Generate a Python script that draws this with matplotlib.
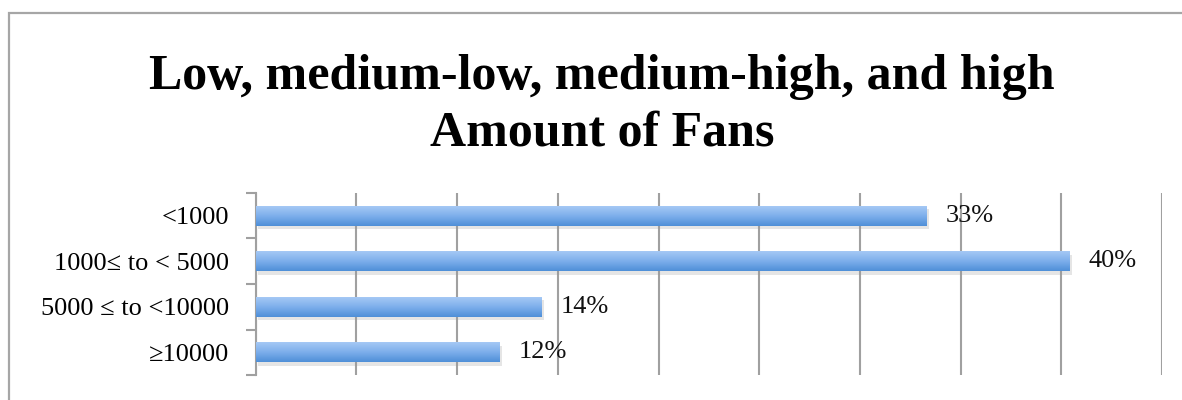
import matplotlib
matplotlib.use("Agg")
import matplotlib.pyplot as plt
import matplotlib.patheffects as pe
from matplotlib.colors import LinearSegmentedColormap
from matplotlib.patches import Rectangle
import numpy as np

categories = ["<1000", "1000\u2264 to < 5000", "5000 \u2264 to <10000", "\u226510000"]
shares = [0.333, 0.404, 0.142, 0.121]
value_labels = ["33%", "40%", "14%", "12%"]

plt.rcParams["font.family"] = ["Liberation Serif", "DejaVu Serif"]

fig = plt.figure(figsize=(11.82, 4.0), dpi=100)
# outer chart border (top and left only visible in the crop)
fig.patches.append(Rectangle((9 / 1182, -0.1), 1.2, 1 - 13 / 400 + 0.1, transform=fig.transFigure,
                             fill=False, edgecolor="#a6a6a6", linewidth=1.6))

ax = fig.add_axes([255.7 / 1182, 25 / 400, (1162 - 255.7) / 1182, (375 - 193) / 400])

grad_cmap = LinearSegmentedColormap.from_list("bar", ["#a9cbf6", "#7fb0ec", "#4f8fd8"])
gradient = np.linspace(0, 1, 64).reshape(-1, 1)

y = np.arange(len(categories))
bars = ax.barh(y, shares, height=0.44, color="#7aaee9", zorder=3,
               path_effects=[pe.SimplePatchShadow(offset=(2, -2.5), shadow_rgbFace="#999999", alpha=0.25),
                             pe.Normal()])
for bar, val, lab in zip(bars, shares, value_labels):
    x0, y0 = bar.get_x(), bar.get_y()
    w, h = bar.get_width(), bar.get_height()
    im = ax.imshow(gradient, extent=[x0, x0 + w, y0 + h, y0], aspect="auto", cmap=grad_cmap,
                   zorder=4, origin="upper")
    im.set_clip_path(bar)
    ax.annotate(lab, (val, y0 + h / 2), xytext=(14, 0), textcoords="offset points",
                ha="left", va="center", fontsize=19, color="#111111", zorder=5)

ax.set_xlim(0, 0.45)
ax.set_ylim(3.5, -0.5)
ax.set_xticks(np.arange(0, 0.451, 0.05))
ax.tick_params(axis="x", length=0, labelbottom=False)
ax.grid(axis="x", color="#a0a0a0", linewidth=1.5, zorder=0)

ax.set_yticks(y, categories)
ax.tick_params(axis="y", which="major", length=0, pad=19, labelsize=19)
ax.set_yticks(np.arange(-0.5, 3.6, 1), minor=True)
ax.tick_params(axis="y", which="minor", length=7, width=1.5, color="#a0a0a0")

for side in ["top", "right", "bottom"]:
    ax.spines[side].set_visible(False)
ax.spines["left"].set_color("#a0a0a0")
ax.spines["left"].set_linewidth(1.5)

fig.text(602 / 1182, 1 - 71 / 400, "Low, medium-low, medium-high, and high", ha="center", va="center_baseline",
         fontsize=36, fontweight="bold")
fig.text(602 / 1182, 1 - 128 / 400, "Amount of Fans", ha="center", va="center_baseline",
         fontsize=36, fontweight="bold")

fig.savefig("out.png", dpi=100)
